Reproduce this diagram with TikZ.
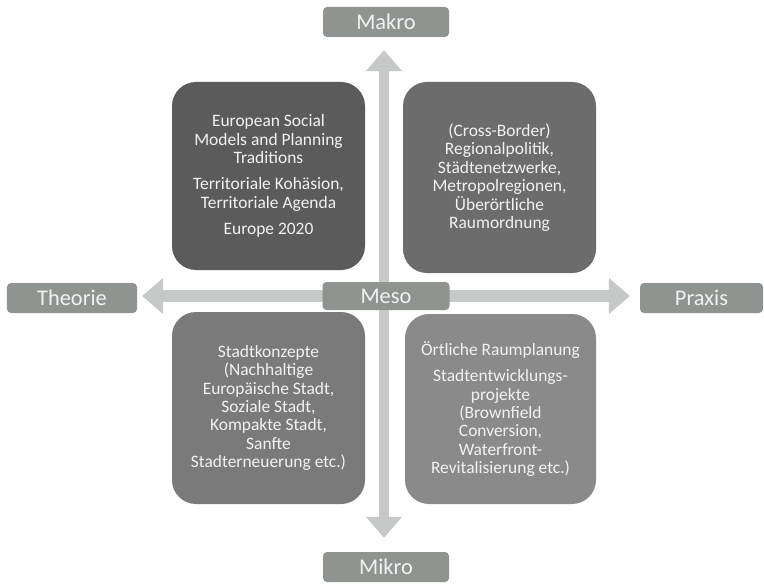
\documentclass[tikz,border=0pt]{standalone}
\usepackage{fontspec}
\setmainfont{Carlito}
\usetikzlibrary{arrows.meta}
\definecolor{qa}{HTML}{5B5B5B}
\definecolor{qb}{HTML}{6C6C6C}
\definecolor{qc}{HTML}{7A7A7A}
\definecolor{qd}{HTML}{8A8A8A}
\definecolor{lab}{HTML}{8F9491}
\definecolor{arr}{HTML}{C6C9C7}
\definecolor{txt}{HTML}{F2F2F2}
\tikzset{
  quad/.style={rounded corners=24bp, inner sep=0pt, align=center, text=txt,
    font=\fontsize{17.5}{18.5}\selectfont},
  axislabel/.style={fill=lab, rounded corners=4bp, inner sep=0pt, text=txt,
    minimum height=30bp, font=\fontsize{22.5}{24}\selectfont},
  blockarrow/.style={draw=arr, -{Triangle[width=35bp,length=21bp]}},
}
\begin{document}
\begin{tikzpicture}[x=1bp,y=-1bp]
\useasboundingbox (0,0) rectangle (764,584);
\fill[white] (0,0) rectangle (764,584);

% axis labels
\node[axislabel, minimum width=126bp] (makro) at (386,22) {Makro};
\node[axislabel, minimum width=126bp] (mikro) at (386,567) {Mikro};
\node[axislabel, minimum width=130bp] (theorie) at (72,298) {Theorie};
\node[axislabel, minimum width=123bp] (praxis) at (701.5,298) {Praxis};
\coordinate (c) at (384,296);

% arrows
\draw[blockarrow, line width=10bp, shorten >=13bp] (c) -- (c |- makro.south);
\draw[blockarrow, line width=10bp, shorten >=14bp] (c) -- (c |- mikro.north);
\draw[blockarrow, line width=12bp, shorten >=5bp] (c) -- (theorie.east |- c);
\draw[blockarrow, line width=12bp, shorten >=10bp] (c) -- (praxis.west |- c);

% quadrants
\node[quad, fill=qa, minimum width=193bp, minimum height=188bp] (tl) at (268.5,176)
  {European Social\\Models and Planning\\Traditions\\[8bp]Territoriale Kohäsion,\\Territoriale Agenda\\[8bp]Europe 2020};
\node[quad, fill=qb, minimum width=193bp, minimum height=191bp] (tr) at (499.5,177.5)
  {(Cross-Border)\\Regionalpolitik,\\Städtenetzwerke,\\Metropolregionen,\\Überörtliche\\Raumordnung};
\node[quad, fill=qc, minimum width=193bp, minimum height=192bp] (bl) at (268.5,408)
  {Stadtkonzepte\\(Nachhaltige\\Europäische Stadt,\\Soziale Stadt,\\Kompakte Stadt,\\Sanfte\\Stadterneuerung etc.)};
\node[quad, fill=qd, minimum width=191bp, minimum height=190bp] (br) at (500.5,409)
  {Örtliche Raumplanung\\[8bp]Stadtentwicklungs-\\projekte\\(Brownfield\\Conversion,\\Waterfront-\\Revitalisierung etc.)};

\node[axislabel, minimum width=127bp, minimum height=28bp] (meso) at (386,296) {Meso};
\end{tikzpicture}
\end{document}
